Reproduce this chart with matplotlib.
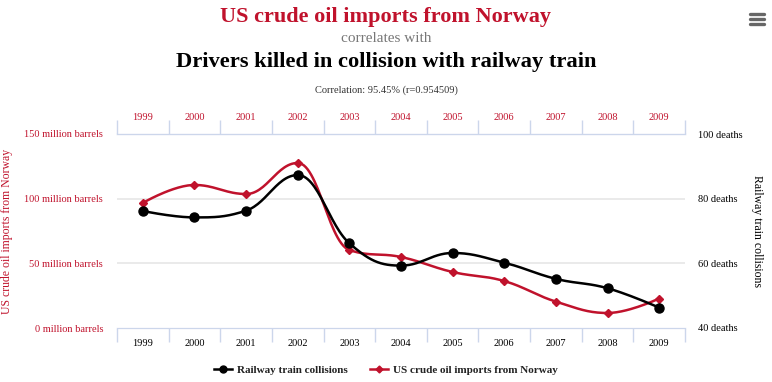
import matplotlib
matplotlib.use("Agg")
import matplotlib.pyplot as plt
import numpy as np

plt.rcParams["font.family"] = ["Liberation Serif", "DejaVu Serif"]

RED = "#c0122c"
AXIS_COLOR = "#ccd6eb"
GRID_COLOR = "#e6e6e6"

years = ["1999", "2000", "2001", "2002", "2003", "2004", "2005", "2006", "2007", "2008", "2009"]
oil_imports = [96.7, 110.6, 103.6, 127.6, 60.3, 54.9, 43.3, 36.3, 20.4, 11.6, 22.8]
collisions = [76.2, 74.2, 76.3, 87.3, 66.2, 59.3, 63.2, 60.2, 55.2, 52.3, 46.3]
left_ticks = [0, 50, 100, 150]
right_ticks = [40, 60, 80, 100]


def spline(xs, ys, n=30):
    # highcharts-style spline: bezier segments with smoothing 1.5
    xs = np.asarray(xs, float)
    ys = np.asarray(ys, float)
    k = 1.5
    m = len(xs)
    lc = [(xs[i], ys[i]) for i in range(m)]
    rc = [(xs[i], ys[i]) for i in range(m)]
    for i in range(1, m - 1):
        lx = (k * xs[i] + xs[i - 1]) / (k + 1)
        ly = (k * ys[i] + ys[i - 1]) / (k + 1)
        rx = (k * xs[i] + xs[i + 1]) / (k + 1)
        ry = (k * ys[i] + ys[i + 1]) / (k + 1)
        corr = (ry - ly) * (rx - xs[i]) / (rx - lx) + ys[i] - ry
        ly += corr
        ry += corr
        if ly > ys[i - 1] and ly > ys[i]:
            ly = max(ys[i - 1], ys[i])
            ry = 2 * ys[i] - ly
        elif ly < ys[i - 1] and ly < ys[i]:
            ly = min(ys[i - 1], ys[i])
            ry = 2 * ys[i] - ly
        if ry > ys[i + 1] and ry > ys[i]:
            ry = max(ys[i + 1], ys[i])
            ly = 2 * ys[i] - ry
        elif ry < ys[i + 1] and ry < ys[i]:
            ry = min(ys[i + 1], ys[i])
            ly = 2 * ys[i] - ry
        lc[i] = (lx, ly)
        rc[i] = (rx, ry)
    t = np.linspace(0, 1, n)[:, None]
    out = []
    for i in range(1, m):
        p0 = np.array([xs[i - 1], ys[i - 1]])
        p1 = np.array(rc[i - 1])
        p2 = np.array(lc[i])
        p3 = np.array([xs[i], ys[i]])
        seg = (1 - t) ** 3 * p0 + 3 * (1 - t) ** 2 * t * p1 + 3 * (1 - t) * t ** 2 * p2 + t ** 3 * p3
        out.append(seg if i == 1 else seg[1:])
    pts = np.vstack(out)
    return pts[:, 0], pts[:, 1]


fig = plt.figure(figsize=(7.72, 3.82), dpi=100)
ax = fig.add_axes([117 / 772, 54 / 382, 568 / 772, 194 / 382])
ax2 = ax.twinx()
x = np.arange(len(years))

ax.set_xlim(-0.5, len(years) - 0.5)
ax.set_ylim(0, 150)
ax2.set_ylim(40, 100)

for a in (ax, ax2):
    for s in ("left", "right"):
        a.spines[s].set_visible(False)
    a.spines["top"].set_color(AXIS_COLOR)
    a.spines["bottom"].set_color(AXIS_COLOR)
ax.grid(False)
for v in (50, 100):
    ax.axhline(v, color=GRID_COLOR, lw=1.2, zorder=0)

ax.set_yticks(left_ticks, [f"{v} million barrels" for v in left_ticks])
ax.tick_params(axis="y", length=0, labelsize=7.5, labelcolor=RED, pad=10)
ax2.set_yticks(right_ticks, [f"{v} deaths" for v in right_ticks])
ax2.tick_params(axis="y", length=0, labelsize=7.5, labelcolor="black", pad=9)

bounds = np.arange(-0.5, len(years), 1.0)
ax.set_xticks(x, years)
ax.set_xticks(bounds, minor=True)
ax.tick_params(axis="x", which="major", length=0, labelsize=7.5, pad=8)
ax.tick_params(axis="x", which="minor", length=10, color=AXIS_COLOR, width=1)

top = ax.secondary_xaxis("top")
top.set_xticks(x, years)
top.set_xticks(bounds, minor=True)
top.tick_params(axis="x", which="major", length=0, labelsize=7.5, labelcolor=RED, pad=8.5)
top.tick_params(axis="x", which="minor", length=10, color=AXIS_COLOR, width=1)
top.spines["top"].set_color(AXIS_COLOR)

ax.set_ylabel("US crude oil imports from Norway", color=RED, fontsize=8.5)
ax.yaxis.set_label_coords((13 - 117) / 568, 0.5)
ax2.set_ylabel("Railway train collisions", color="black", fontsize=8.5, rotation=270, va="center")
ax2.yaxis.set_label_coords((757 - 117) / 568, 0.5)

sx, sy = spline(x, collisions)
ax2.plot(sx, sy, color="black", lw=1.8, zorder=3)
ax2.plot(x, collisions, "o", color="black", ms=6.5, zorder=4)
rx, ry = spline(x, oil_imports)
ax.plot(rx, ry, color=RED, lw=1.8, zorder=3)
ax.plot(x, oil_imports, "D", color=RED, ms=4.5, zorder=4)
ax2.set_zorder(ax.get_zorder() + 1)
ax2.patch.set_visible(False)

fig.text(0.5, 1 - 17 / 382, "US crude oil imports from Norway", ha="center", va="center",
         fontsize=16, fontweight="bold", color=RED)
fig.text(0.5, 1 - 38 / 382, "correlates with", ha="center", va="center", fontsize=11, color="#777777")
fig.text(0.5, 1 - 62 / 382, "Drivers killed in collision with railway train", ha="center", va="center",
         fontsize=16.2, fontweight="bold", color="black")
fig.text(0.5, 1 - 90 / 382, "Correlation: 95.45% (r=0.954509)", ha="center", va="center",
         fontsize=7.5, color="#333333")

# menu icon
for dy in (14, 19, 24):
    fig.add_artist(plt.Line2D([750 / 772, 764 / 772], [1 - dy / 382] * 2, color="#666666", lw=2.4,
                              solid_capstyle="round"))

# legend
leg = fig.legend(
    [plt.Line2D([], [], color="black", marker="o", ms=5, lw=1.8),
     plt.Line2D([], [], color=RED, marker="D", ms=3.5, lw=1.8)],
    ["Railway train collisions", "US crude oil imports from Norway"],
    loc="center", bbox_to_anchor=(0.5, 1 - 370 / 382), ncol=2, frameon=False,
    prop={"size": 8, "weight": "bold"}, handlelength=1.6, columnspacing=2.0, handletextpad=0.5,
)
for t in leg.get_texts():
    t.set_color("#222222")

fig.savefig("out.png", dpi=100)
